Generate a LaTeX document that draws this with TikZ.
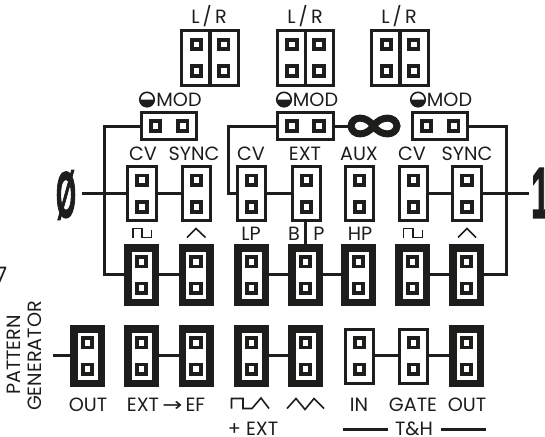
\documentclass[tikz,border=0pt]{standalone}
\usepackage{fontspec}
\setmainfont{Poppins}
\newfontfamily\arrowfont{DejaVu Sans}
\newfontfamily\bigfont{Liberation Sans Bold}[FakeBold=2.5]
\definecolor{ink}{HTML}{1D1D1B}
\tikzset{
  thinbox/.style={draw=ink,fill=white,line width=3*0.75pt,minimum width=28.5*0.75pt,minimum height=54*0.75pt,inner sep=0pt},
  thickbox/.style={draw=ink,fill=white,line width=7.5*0.75pt,minimum width=27.5*0.75pt,minimum height=54.5*0.75pt,inner sep=0pt},
  widebox/.style={draw=ink,fill=white,line width=3*0.75pt,minimum width=55.5*0.75pt,minimum height=27*0.75pt,inner sep=0pt},
  halfbox/.style={draw=ink,fill=white,line width=3*0.75pt,minimum width=28*0.75pt,minimum height=55*0.75pt,inner sep=0pt},
  pinsq/.style={draw=ink,fill=white,line width=3.8*0.75pt,minimum size=9.6*0.75pt,inner sep=0pt},
  lab/.style={anchor=base,inner sep=0pt,text=ink,font=\fontsize{14.4}{15}\selectfont},
  wire/.style={draw=ink,line width=3*0.75pt},
  glyph/.style={draw=ink,line width=1.6*0.75pt,miter limit=4},
}
\newcommand{\jumper}[4]{% name, x, y, style
  \node[#4] (#1) at (#2,#3) {};
  \node[pinsq] (#1a) at (#2,#3-13.3) {};
  \node[pinsq] (#1b) at (#2,#3+13.3) {};
}
\newcommand{\modjump}[3]{% name, x, y
  \node[widebox] (#1) at (#2,#3) {};
  \node[pinsq] (#1a) at (#2-13.6,#3) {};
  \node[pinsq] (#1b) at (#2+13.6,#3) {};
}
\newcommand{\lrjump}[2]{% name, x
  \node[halfbox] (#1l) at (#2-14.3,58) {};
  \node[halfbox] (#1r) at (#2+14.3,58) {};
  \node[pinsq] at (#2-13.6,44.5) {};
  \node[pinsq] at (#2+13.6,44.5) {};
  \node[pinsq] at (#2-13.6,71) {};
  \node[pinsq] at (#2+13.6,71) {};
}
\newcommand{\halfmoon}[2]{%
  \fill[ink] (#1-7.8,#2) arc[start angle=180,end angle=360,radius=7.8*0.75pt] -- cycle;
  \draw[ink,line width=1.6*0.75pt] (#1,#2) circle[radius=7.2*0.75pt];
}
\begin{document}
\begin{tikzpicture}[x=0.75pt,y=-0.75pt]
\useasboundingbox (0,0) rectangle (545,436);
\clip (0,0) rectangle (545,436);
% L/R
\lrjump{lra}{210}
\lrjump{lrb}{305.5}
\lrjump{lrc}{400}
\node[lab] (tlra) at (209,23) {L\,/\,R};
\node[lab] (tlrb) at (305,23) {L\,/\,R};
\node[lab] (tlrc) at (399,23) {L\,/\,R};
% MOD
\modjump{ma}{169}{126}
\modjump{mb}{305.5}{126}
\modjump{mc}{440}{126}
\halfmoon{147}{99.5}\halfmoon{284}{99.5}\halfmoon{418}{99.5}
\node[lab] (tma) at (179,106) {MOD};
\node[lab] (tmb) at (315.5,106) {MOD};
\node[lab] (tmc) at (449.5,106) {MOD};
% CV row
\foreach \n/\x in {ra/142,rb/196.5,rc/251.5,rd/306.5,re/359.5,rf/413.5,rg/467}{\jumper{\n}{\x}{193.5}{thinbox}}
\foreach \n/\x/\t in {ca/143/CV,cb/194/SYNC,cc/251/CV,cd/305/EXT,ce/359/AUX,cf/412/CV,cg/467/SYNC}{\node[lab] (\n) at (\x,160) {\t};}
% filter row
\foreach \n/\x in {sa/141.5,sb/196,sc/251.5,sd/305.5,se/358.5,sf/412.5,sg/466.5}{\jumper{\n}{\x}{275}{thickbox}}
% bottom row
\foreach \n/\x in {ba/87.5,bb/141.5,bc/196,bd/251.5,be/305.5,bh/466.5}{\jumper{\n}{\x}{356}{thickbox}}
\foreach \n/\x in {bf/359.5,bg/413.5}{\jumper{\n}{\x}{356}{thinbox}}
% coordinates
\coordinate (zero) at (82,193);
\coordinate (one) at (529,193);
\coordinate (lbusT) at (104,126);
\coordinate (lbusB) at (104,274);
\coordinate (mbusT) at (228,126);
\coordinate (mbusB) at (228,193);
\coordinate (rbusT) at (506,126);
\coordinate (rbusB) at (506,274);
\coordinate (pg) at (53,355.5);
% wires
\draw[wire] (ma.west) -- (lbusT) -- (lbusB) -- (sa.west |- lbusB);
\draw[wire] (mb.west) -- (mbusT) -- (mbusB) -- (rc.west |- mbusB);
\draw[wire] (mc.east) -- (rbusT) -- (rbusB) -- (sg.east |- rbusB);
\draw[wire] (zero) -- (ra.west |- zero);
\draw[wire] (ra.east |- zero) -- (rb.west |- zero);
\draw[wire] (rc.east |- zero) -- (rd.west |- zero);
\draw[wire] (rf.east |- zero) -- (rg.west |- zero);
\draw[wire] (rg.east |- zero) -- (one);
\foreach \p/\q in {sa/sb,sc/sd,sd/se,sf/sg}{\draw[wire] (\p.east |- lbusB) -- (\q.west |- lbusB);}
\draw[wire] (sd.north |- rd.south) -- (sd.north);
\draw[wire] (pg) -- (ba.west |- pg);
\foreach \p/\q in {bb/bc,bd/be,bf/bg,bg/bh}{\draw[wire] (\p.east |- pg) -- (\q.west |- pg);}
% infinity
\draw[wire] (mb.east) -- (350,126);
\draw[ink,line width=7*0.75pt] (373.5,126) .. controls (366,115) and (352,116) .. (351,126) .. controls (352,136) and (366,137) .. (373.5,126) .. controls (381,115) and (396,116) .. (397,126) .. controls (396,136) and (381,137) .. (373.5,126) -- cycle;
% big digits
\node[inner sep=0pt,text=ink] (zeroT) at (66,195) {\resizebox{15pt}{35pt}{\bigfont Ø}};
\node[inner sep=0pt,text=ink,anchor=west] (oneT) at (531,193) {\resizebox{14pt}{37pt}{\bigfont 1}};
\node[lab,anchor=base east,font=\fontsize{17}{18}\selectfont] (seven) at (7.5,283) {7};
% row 3 labels and glyphs
\path[glyph] (133,237.5) -- (133,228.5) -- (142,228.5) -- (142,237.5) -- (151.5,237.5) -- (151.5,230);
\path[glyph] (187,237.5) -- (196,228.5) -- (205.5,237.5);
\path[glyph] (403.5,237.5) -- (403.5,228.5) -- (413,228.5) -- (413,237.5) -- (422.5,237.5) -- (422.5,230);
\path[glyph] (458,237.5) -- (467,228.5) -- (476,237.5);
\node[lab] (lp) at (251,240) {LP};
\node[lab] (tb) at (294,240) {B};
\node[lab] (tp) at (319,240) {P};
\node[lab] (hp) at (360,240) {HP};
% bottom labels
\node[lab] (o1) at (88,411) {OUT};
\node[lab] (ef) at (166,411) {EXT\,{\arrowfont\scalebox{1.25}[1]{→}}\,EF};
\path[glyph] (231.5,408.5) -- (231.5,398.5) -- (243,398.5) -- (243,408.5) -- (252,408.5) -- (261,398) -- (269,408.5);
\path[glyph] (287,408.5) -- (296,398.5) -- (305,409.5) -- (314,398.5) -- (324,408.5);
\node[lab] (pe) at (253,435.5) {+ EXT};
\node[lab] (in) at (359,411) {IN};
\node[lab] (ga) at (413,411) {GATE};
\node[lab] (o2) at (467,411) {OUT};
\node[lab] (th) at (414,435.5) {T\&H};
\coordinate (tha) at (343,429);\coordinate (thb) at (388,429);
\coordinate (thc) at (441,429);\coordinate (thd) at (486,429);
\draw[wire] (tha) -- (thb);
\draw[wire] (thc) -- (thd);
% side labels
\node[lab,anchor=center,rotate=90] (pat) at (14,355) {PATTERN};
\node[lab,anchor=center,rotate=90] (gen) at (35,356) {GENERATOR};
\end{tikzpicture}
\end{document}
